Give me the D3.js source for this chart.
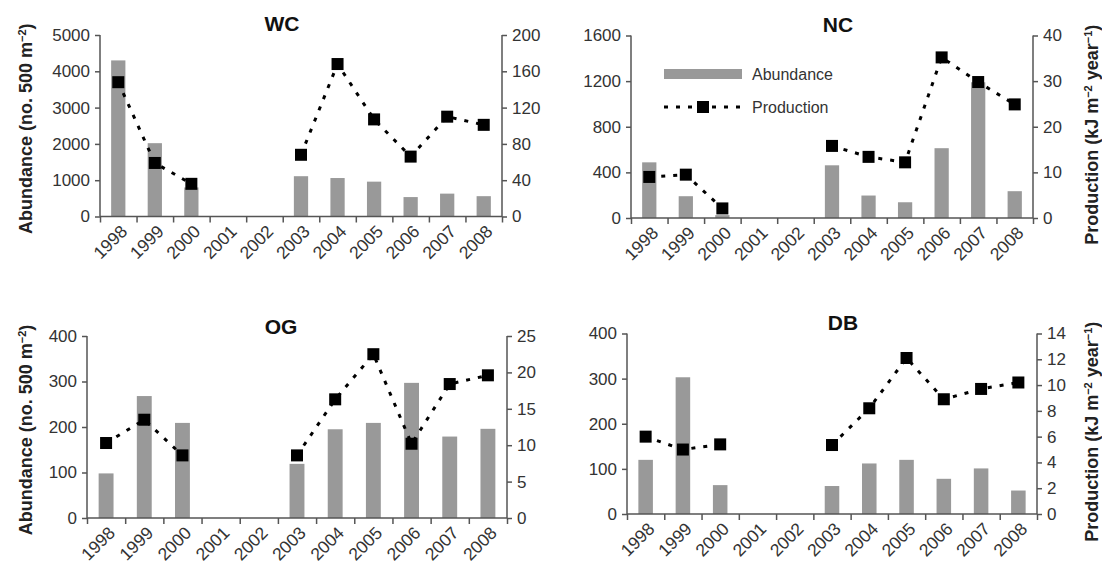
<!DOCTYPE html>
<html>
<head>
<meta charset="utf-8">
<script src="https://cdn.jsdelivr.net/npm/d3@7"></script>
<style>
  body { margin: 0; background: #fff; }
  svg { display: block; font-family: "Liberation Sans", Arial, sans-serif; }
  .tick text { fill: #333; }
</style>
</head>
<body>
<script>
const width = 1102, height = 571;

// data
const years = ["1998", "1999", "2000", "2001", "2002", "2003", "2004", "2005", "2006", "2007", "2008"];

const wcAbundance = [4300, 2020, 800, null, null, 1110, 1060, 960, 535, 630, 560];
const wcProduction = [148, 59, 36, null, null, 68, 168, 107, 66, 110, 101];
const ncAbundance = [488, 191, 25, null, null, 462, 197, 138, 612, 1190, 235];
const ncProduction = [9.0, 9.5, 2.1, null, null, 15.8, 13.4, 12.2, 35.2, 29.8, 24.9];
const ogAbundance = [98, 268, 209, null, null, 119, 195, 209, 297, 179, 196];
const ogProduction = [10.3, 13.5, 8.6, null, null, 8.6, 16.3, 22.5, 10.2, 18.4, 19.6];
const dbAbundance = [120, 303, 64, null, null, 62, 112, 120, 78, 101, 52];
const dbProduction = [6.0, 5.0, 5.4, null, null, 5.35, 8.2, 12.1, 8.9, 9.7, 10.2];

const wcAbTicks = [0, 1000, 2000, 3000, 4000, 5000];
const wcPrTicks = [0, 40, 80, 120, 160, 200];
const ncAbTicks = [0, 400, 800, 1200, 1600];
const ncPrTicks = [0, 10, 20, 30, 40];
const ogAbTicks = [0, 100, 200, 300, 400];
const ogPrTicks = [0, 5, 10, 15, 20, 25];
const dbAbTicks = [0, 100, 200, 300, 400];
const dbPrTicks = [0, 2, 4, 6, 8, 10, 12, 14];

const panels = [
    { name: "WC", ab: wcAbundance, pr: wcProduction, abTicks: wcAbTicks, prTicks: wcPrTicks,
      left: 100, right: 502, top: 35, bottom: 216.5, titleX: 282, titleY: 31, yLabel: "left" },
    { name: "NC", ab: ncAbundance, pr: ncProduction, abTicks: ncAbTicks, prTicks: ncPrTicks,
      left: 631, right: 1033, top: 35.5, bottom: 218, titleX: 838, titleY: 32, yLabel: "right", legend: true },
    { name: "OG", ab: ogAbundance, pr: ogProduction, abTicks: ogAbTicks, prTicks: ogPrTicks,
      left: 87, right: 507, top: 336, bottom: 518, titleX: 281, titleY: 334, yLabel: "left" },
    { name: "DB", ab: dbAbundance, pr: dbProduction, abTicks: dbAbTicks, prTicks: dbPrTicks,
      left: 627, right: 1037, top: 333.5, bottom: 514, titleX: 843, titleY: 330, yLabel: "right" }
];

const barColor = "#999";
const axisColor = "#555";

const svg = d3.select("body").append("svg")
    .attr("width", width)
    .attr("height", height);

function supLabel(sel, parts) {
    parts.forEach(p => {
        const t = sel.append("tspan").text(p[0]);
        if (p[1]) t.attr("baseline-shift", "super").attr("font-size", "11px");
    });
}

panels.forEach(p => {
    const g = svg.append("g");

    const x = d3.scaleBand().domain(years).range([p.left, p.right]);
    const xEdge = d3.scaleLinear().domain([0, years.length]).range([p.left, p.right]);
    const yAb = d3.scaleLinear().domain([0, d3.max(p.abTicks)]).range([p.bottom, p.top]);
    const yPr = d3.scaleLinear().domain([0, d3.max(p.prTicks)]).range([p.bottom, p.top]);

    // bars
    const bw = x.bandwidth() * 0.39;
    g.selectAll("rect.bar")
        .data(years.map((y, i) => ({ year: y, v: p.ab[i] })).filter(d => d.v != null))
        .enter().append("rect")
        .attr("class", "bar")
        .attr("x", d => x(d.year) + (x.bandwidth() - bw) / 2)
        .attr("y", d => yAb(d.v))
        .attr("width", bw)
        .attr("height", d => yAb(0) - yAb(d.v))
        .attr("fill", barColor);

    // left axis
    const la = g.append("g")
        .attr("transform", "translate(" + p.left + ",0)")
        .call(d3.axisLeft(yAb).tickValues(p.abTicks).tickSize(5).tickPadding(5).tickFormat(d3.format("d")));
    // right axis
    const ra = g.append("g")
        .attr("transform", "translate(" + p.right + ",0)")
        .call(d3.axisRight(yPr).tickValues(p.prTicks).tickSize(5).tickPadding(5).tickFormat(d3.format("d")));
    [la, ra].forEach(a => {
        a.select(".domain").attr("stroke", axisColor).attr("stroke-width", 1.5).attr("d",
            "M0," + p.top + "V" + p.bottom);
        a.selectAll(".tick line").attr("stroke", axisColor).attr("stroke-width", 1.5);
        a.selectAll(".tick text").attr("font-size", "17px").attr("font-family", "Liberation Sans, Arial, sans-serif");
    });

    // x axis: ticks at band edges
    const xa = g.append("g")
        .attr("transform", "translate(0," + p.bottom + ")")
        .call(d3.axisBottom(xEdge).tickValues(d3.range(0, years.length + 1)).tickSize(6).tickFormat(""));
    xa.select(".domain").attr("stroke", axisColor).attr("stroke-width", 1.5)
        .attr("d", "M" + p.left + ",0H" + p.right);
    xa.selectAll(".tick line").attr("stroke", axisColor).attr("stroke-width", 1.5);

    g.append("g").selectAll("text.year")
        .data(years)
        .enter().append("text")
        .attr("class", "year")
        .attr("transform", d => "translate(" + (x(d) + x.bandwidth() / 2 + 10) + "," + (p.bottom + 16) + ") rotate(-45)")
        .attr("text-anchor", "end")
        .attr("font-size", "17.5px")
        .attr("fill", "#333")
        .text(d => d);

    // production line, broken where no data
    const pts = years.map((y, i) => ({ year: y, v: p.pr[i] }));
    const line = d3.line()
        .defined(d => d.v != null)
        .x(d => x(d.year) + x.bandwidth() / 2)
        .y(d => yPr(d.v));
    g.append("path")
        .datum(pts)
        .attr("d", line)
        .attr("fill", "none")
        .attr("stroke", "#000")
        .attr("stroke-width", 3)
        .attr("stroke-dasharray", "4,8");
    g.selectAll("rect.mark")
        .data(pts.filter(d => d.v != null))
        .enter().append("rect")
        .attr("class", "mark")
        .attr("x", d => x(d.year) + x.bandwidth() / 2 - 6)
        .attr("y", d => yPr(d.v) - 6)
        .attr("width", 12)
        .attr("height", 12)
        .attr("fill", "#000");

    // title
    g.append("text")
        .attr("x", p.titleX)
        .attr("y", p.titleY)
        .attr("text-anchor", "middle")
        .attr("font-size", "21px")
        .attr("font-weight", "bold")
        .attr("fill", "#111")
        .text(p.name);

    // axis titles
    const midY = (p.top + p.bottom) / 2;
    if (p.yLabel === "left") {
        const t = g.append("text")
            .attr("transform", "translate(26," + (midY + 3) + ") rotate(-90)")
            .attr("text-anchor", "middle")
            .attr("dy", "0.36em")
            .attr("font-size", "18px")
            .attr("font-weight", "bold")
            .attr("fill", "#222");
        supLabel(t, [["Abundance (no. 500 m"], ["\u22122", true], [")"]]);
    } else {
        const t = g.append("text")
            .attr("transform", "translate(1092," + (midY + 8) + ") rotate(-90)")
            .attr("text-anchor", "middle")
            .attr("dy", "0.36em")
            .attr("font-size", "18px")
            .attr("font-weight", "bold")
            .attr("fill", "#222");
        supLabel(t, [["Production (kJ m"], ["\u22122", true], [" year"], ["\u22121", true], [")"]]);
    }

    // legend
    if (p.legend) {
        const lg = g.append("g");
        lg.append("rect")
            .attr("x", 664).attr("y", 69).attr("width", 78).attr("height", 10)
            .attr("fill", barColor);
        lg.append("text")
            .attr("x", 752).attr("y", 80)
            .attr("font-size", "16px").attr("fill", "#333")
            .text("Abundance");
        lg.append("line")
            .attr("x1", 664).attr("x2", 742).attr("y1", 107).attr("y2", 107)
            .attr("stroke", "#000").attr("stroke-width", 3).attr("stroke-dasharray", "4,8");
        lg.append("rect")
            .attr("x", 697).attr("y", 101).attr("width", 12).attr("height", 12)
            .attr("fill", "#000");
        lg.append("text")
            .attr("x", 752).attr("y", 113)
            .attr("font-size", "16px").attr("fill", "#333")
            .text("Production");
    }
});
</script>
</body>
</html>
